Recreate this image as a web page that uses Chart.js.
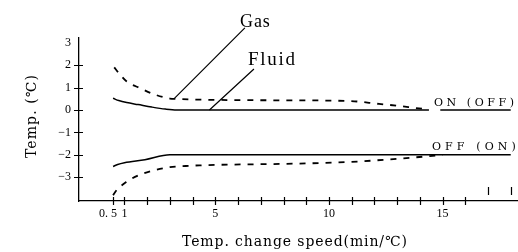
<!DOCTYPE html>
<html>
<head>
<meta charset="utf-8">
<script src="https://cdn.jsdelivr.net/npm/chart.js@4.4.0/dist/chart.umd.min.js"></script>
<style>
html, body { margin: 0; padding: 0; background: #fff; }
#wrap { width: 518px; height: 252px; }
</style>
</head>
<body>
<div id="wrap"><canvas id="chart" width="518" height="252"></canvas></div>
<script>
// Temp. offset (℃) against temp. change speed (min/℃)
const onFluidX = [0.5, 0.75, 1.1, 1.6, 2.2, 2.8, 3.3, 14.4, 14.7, 14.9, 18.0];
const onFluidY = [0.52, 0.42, 0.33, 0.24, 0.13, 0.04, 0, 0, null, 0, 0];
const onGasX = [0.55, 0.75, 1.1, 1.7, 2.3, 3.0, 3.3, 4.3, 8.0, 10.9, 12.2, 13.1, 13.8, 14.4];
const onGasY = [1.9, 1.65, 1.27, 0.97, 0.7, 0.51, 0.49, 0.46, 0.43, 0.4, 0.27, 0.18, 0.09, 0.02];
const offFluidX = [0.5, 0.7, 1.0, 1.9, 3.0, 18.0];
const offFluidY = [-2.52, -2.43, -2.35, -2.22, -2.0, -2.0];
const offGasX = [0.5, 0.65, 1.1, 1.6, 2.2, 3.0, 3.7, 4.3, 8.7, 10.9, 13.1, 14.4, 15.0];
const offGasY = [-3.8, -3.58, -3.2, -2.92, -2.72, -2.55, -2.5, -2.47, -2.39, -2.32, -2.17, -2.06, -2.0];

// axes
const xTickVals = [0.5, 1, 2, 3, 4, 5, 6, 7, 8, 9, 10, 11, 12, 13, 14, 15, 16];
const xLabelVals = [0.5, 1, 5, 10, 15];
const xLabels = ['0. 5', '1', '5', '10', '15'];
const xBreakVals = [17, 18];
const yTickVals = [-3, -2, -1, 0, 1, 2, 3];
const yMarkVals = [-3, -2, -1, 0, 1, 2];

// callouts
const annoText = ['Gas', 'Fluid', 'ON (OFF)', 'OFF (ON)'];
const annoX = [6.08, 6.44, 14.62, 14.53];
const annoY = [3.72, 2.01, 0.16, -1.79];
const leaderFrom = [[3.2, 0.52], [4.74, 0]];
const leaderTo = [[6.3, 3.66], [6.7, 1.83]];

const SERIF = '"Liberation Serif", "DejaVu Serif", serif';
const WIDE = '"DejaVu Serif", "Liberation Serif", serif';
const pts = (xs, ys) => xs.map((x, i) => ({ x: x, y: ys[i] }));

// spread text out to a given width (the original uses a wide CJK face)
function fitText(ctx, text, x, y, width) {
    ctx.letterSpacing = '0px';
    const w = ctx.measureText(text).width;
    const n = [...text].length;
    ctx.letterSpacing = ((width - w) / Math.max(n - 1, 1)) + 'px';
    ctx.fillText(text, x, y);
    ctx.letterSpacing = '0px';
}

const decor = {
    id: 'decor',
    afterDraw(chart) {
        const { ctx, chartArea: a } = chart;
        const xs = chart.scales.x, ys = chart.scales.y;
        ctx.save();
        ctx.strokeStyle = '#000';
        ctx.fillStyle = '#000';
        ctx.lineWidth = 1.2;

        // tick marks cross the axes
        ctx.beginPath();
        xTickVals.forEach(v => {
            const px = Math.round(xs.getPixelForValue(v)) + 0.5;
            ctx.moveTo(px, a.bottom - 4);
            ctx.lineTo(px, a.bottom + 4);
        });
        xBreakVals.forEach(v => {
            const px = Math.round(xs.getPixelForValue(v)) + 0.5;
            ctx.moveTo(px, a.bottom - 14);
            ctx.lineTo(px, a.bottom - 6);
        });
        yMarkVals.forEach(v => {
            const py = Math.round(ys.getPixelForValue(v)) + 0.5;
            ctx.moveTo(a.left - 5, py);
            ctx.lineTo(a.left + 4, py);
        });
        ctx.stroke();

        // x tick labels
        ctx.font = '12px ' + SERIF;
        ctx.textBaseline = 'alphabetic';
        xLabelVals.forEach((v, i) => {
            const px = xs.getPixelForValue(v);
            if (i === 0) {
                ctx.textAlign = 'right';
                ctx.fillText(xLabels[i], px + 4, a.bottom + 16);
            } else {
                ctx.textAlign = 'center';
                ctx.fillText(xLabels[i], px, a.bottom + 16);
            }
        });

        // leaders
        ctx.lineWidth = 1.2;
        ctx.beginPath();
        leaderFrom.forEach((p, i) => {
            ctx.moveTo(xs.getPixelForValue(p[0]), ys.getPixelForValue(p[1]));
            ctx.lineTo(xs.getPixelForValue(leaderTo[i][0]), ys.getPixelForValue(leaderTo[i][1]));
        });
        ctx.stroke();

        // callout texts
        ctx.textAlign = 'left';
        const fonts = ['18px ' + SERIF, '19px ' + SERIF, '11px ' + WIDE, '11px ' + WIDE];
        const widths = [30, 47, 80, 84];
        annoText.forEach((t, i) => {
            ctx.font = fonts[i];
            fitText(ctx, t, xs.getPixelForValue(annoX[i]), ys.getPixelForValue(annoY[i]), widths[i]);
        });

        // axis titles
        ctx.font = '14px ' + WIDE;
        ctx.textAlign = 'left';
        fitText(ctx, 'Temp. change speed(min/℃)', 182, 246, 225);
        ctx.translate(36, 158);
        ctx.rotate(-Math.PI / 2);
        fitText(ctx, 'Temp. (℃)', 0, 0, 83);
        ctx.restore();
    }
};

const solid = { borderColor: '#000', borderWidth: 1.5, pointRadius: 0, fill: false, cubicInterpolationMode: 'monotone', spanGaps: false };
const dashed = Object.assign({}, solid, { borderDash: [6, 7], borderWidth: 1.8 });

new Chart(document.getElementById('chart'), {
    type: 'line',
    data: {
        datasets: [
            Object.assign({ label: 'ON fluid', data: pts(onFluidX, onFluidY) }, solid),
            Object.assign({ label: 'ON gas', data: pts(onGasX, onGasY) }, dashed),
            Object.assign({ label: 'OFF fluid', data: pts(offFluidX, offFluidY) }, solid),
            Object.assign({ label: 'OFF gas', data: pts(offGasX, offGasY) }, dashed)
        ]
    },
    options: {
        responsive: false,
        animation: false,
        events: [],
        layout: { padding: { top: 38, left: 0, right: 0, bottom: 0 } },
        plugins: { legend: { display: false }, tooltip: { enabled: false }, title: { display: false } },
        scales: {
            x: {
                type: 'linear', min: -1.0, max: 18.32,
                grid: { display: false, drawTicks: false },
                border: { display: true, color: '#000', width: 1.3 },
                ticks: { display: false },
                afterFit: s => { s.height = 51; }
            },
            y: {
                type: 'linear', min: -4.06, max: 3.21,
                grid: { display: false, drawTicks: false },
                border: { display: true, color: '#000', width: 1.3 },
                afterBuildTicks: s => { s.ticks = yTickVals.map(v => ({ value: v })); },
                ticks: {
                    color: '#000', padding: 8,
                    font: { family: SERIF, size: 12 },
                    callback: v => v < 0 ? '\u2212' + Math.abs(v) : String(v)
                },
                afterFit: s => { s.width = 79; }
            }
        }
    },
    plugins: [decor]
});
</script>
</body>
</html>
